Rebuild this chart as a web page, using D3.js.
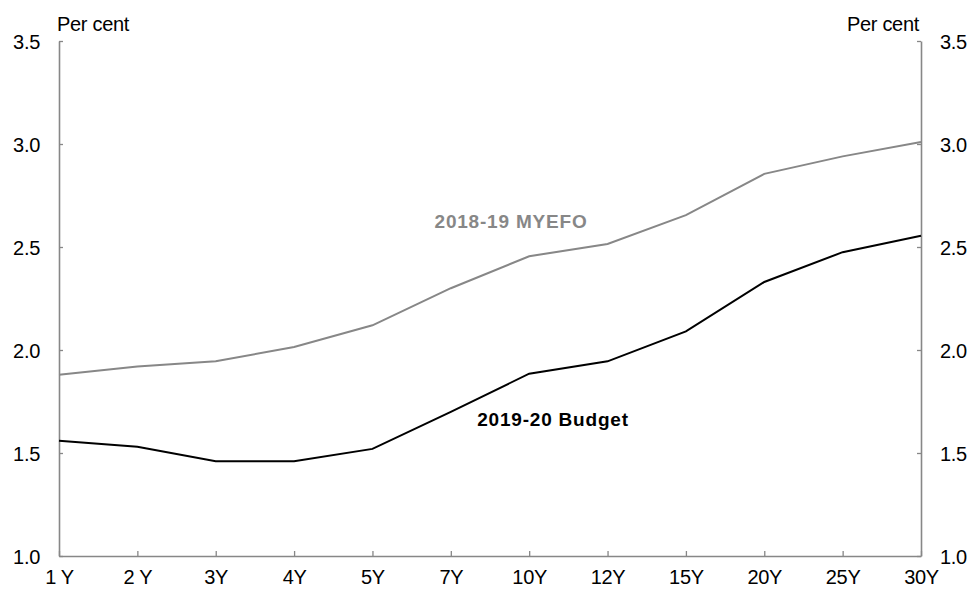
<!DOCTYPE html>
<html>
<head>
<meta charset="utf-8">
<script src="https://cdnjs.cloudflare.com/ajax/libs/d3/7.8.5/d3.min.js"></script>
<style>
body{margin:0;background:#fff;}
text{font-family:Arial,"Liberation Sans",sans-serif;}
</style>
</head>
<body>
<div id="chart"></div>
<script>
let width= 972;
let height= 591;
let margin= {top:41, right:51, bottom:35, left:59};

// tenors and yields (per cent)
const tenors= ["1 Y","2 Y","3Y","4Y","5Y","7Y","10Y","12Y","15Y","20Y","25Y","30Y"];
const myefo= [1.88,1.92,1.945,2.015,2.12,2.30,2.455,2.515,2.655,2.855,2.94,3.01];
const budget= [1.56,1.53,1.46,1.46,1.52,1.70,1.885,1.945,2.09,2.33,2.475,2.555];
const yTicks= [1.0,1.5,2.0,2.5,3.0,3.5];

let chart= d3.select("#chart")
.append("svg")
.attr("width", width).attr("height", height);

let x= d3.scalePoint().domain(tenors).range([margin.left, width-margin.right]);
let y= d3.scaleLinear().domain([1.0,3.5]).range([height-margin.bottom, margin.top]);

let axisColor= "#878787";
let fs= "20px";

// left axis
let left= chart.append("g").attr("transform","translate("+margin.left+",0)")
.call(d3.axisLeft(y).tickValues(yTicks).tickFormat(d3.format(".1f")).tickSizeInner(-4).tickSizeOuter(0).tickPadding(19));

// right axis
let right= chart.append("g").attr("transform","translate("+(width-margin.right)+",0)")
.call(d3.axisRight(y).tickValues(yTicks).tickFormat(d3.format(".1f")).tickSizeInner(-4).tickSizeOuter(0).tickPadding(19));

// bottom axis
let bottom= chart.append("g").attr("transform","translate(0,"+(height-margin.bottom)+")")
.call(d3.axisBottom(x).tickSizeInner(-5).tickSizeOuter(0).tickPadding(14));

[left,right,bottom].forEach(function(g){
    g.select(".domain").attr("stroke",axisColor).attr("stroke-width",1.6);
    g.selectAll(".tick line").attr("stroke",axisColor).attr("stroke-width",1.3);
    g.selectAll(".tick text").attr("font-size",fs).attr("fill","#000").attr("letter-spacing","-0.3px");
});
left.selectAll(".tick text").attr("dy","0.36em");
right.selectAll(".tick text").attr("dy","0.36em");
bottom.selectAll(".tick text").attr("dy","0.71em");

let line= d3.line()
.x(function(d,i){ return x(tenors[i]); })
.y(function(d){ return y(d); });

chart.append("path").datum(myefo)
.attr("d",line).attr("fill","none").attr("stroke","#878787").attr("stroke-width",2);

chart.append("path").datum(budget)
.attr("d",line).attr("fill","none").attr("stroke","#000").attr("stroke-width",2);

// unit labels
chart.append("text").text("Per cent")
.attr("x",57).attr("y",31).attr("font-size",fs).attr("letter-spacing","-0.3px");
chart.append("text").text("Per cent")
.attr("x",919).attr("y",31).attr("font-size",fs).attr("letter-spacing","-0.3px").attr("text-anchor","end");

// series labels
chart.append("text").text("2018-19 MYEFO")
.attr("x",511).attr("y",228).attr("font-size","19px").attr("font-weight","bold")
.attr("fill","#878787").attr("text-anchor","middle").attr("letter-spacing","0.8px");
chart.append("text").text("2019-20 Budget")
.attr("x",553).attr("y",426).attr("font-size","19px").attr("font-weight","bold")
.attr("fill","#000").attr("text-anchor","middle").attr("letter-spacing","0.8px");
</script>
</body>
</html>
